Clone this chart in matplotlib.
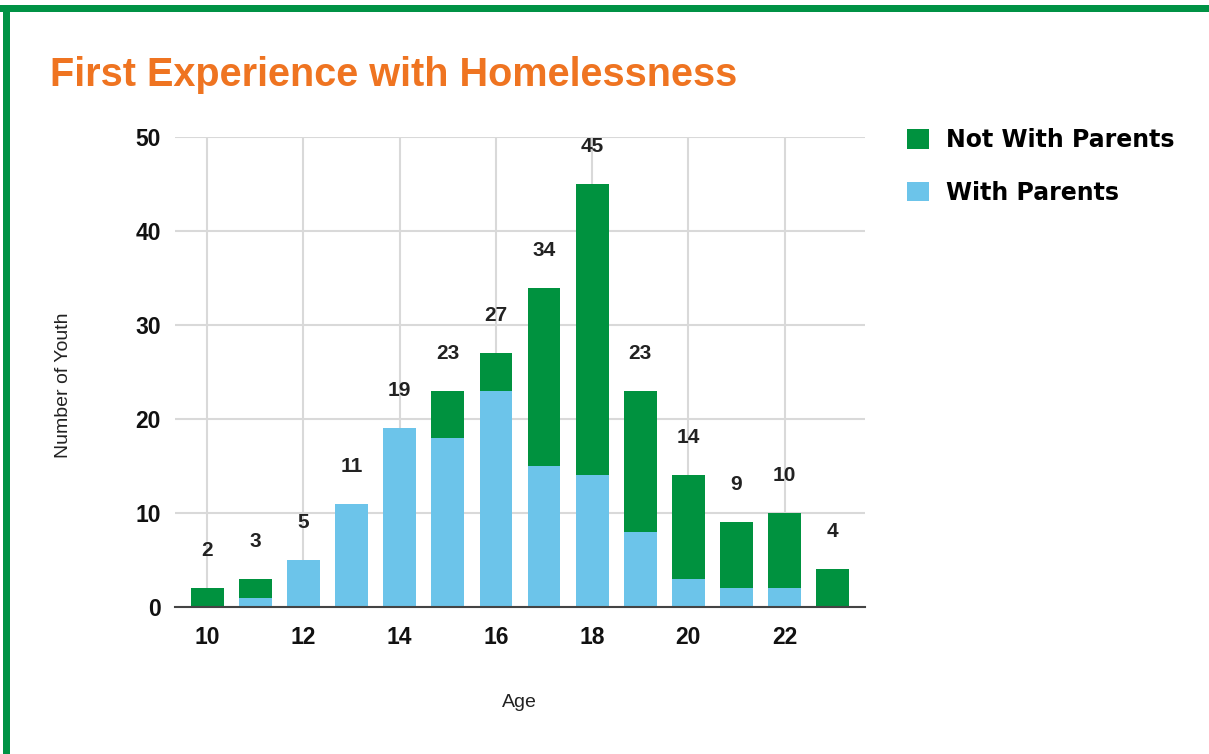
import numpy as np
import matplotlib
matplotlib.use("Agg")
import matplotlib.pyplot as plt
from matplotlib.patches import Rectangle, Patch

ages = [10, 11, 12, 13, 14, 15, 16, 17, 18, 19, 20, 21, 22, 23]
with_parents = [0, 1, 5, 11, 19, 18, 23, 15, 14, 8, 3, 2, 2, 0]
not_with_parents = [2, 2, 0, 0, 0, 5, 4, 19, 31, 15, 11, 7, 8, 4]
x_ticks = [10, 12, 14, 16, 18, 20, 22]
y_ticks = [0, 10, 20, 30, 40, 50]

green = "#00923f"
blue = "#6cc4ea"
orange = "#ef7421"

plt.rcParams['font.family'] = ['Liberation Sans', 'DejaVu Sans']

fig = plt.figure(figsize=(12.09, 7.54), dpi=100)
ax = fig.add_axes([0.1447, 0.195, 0.5708, 0.623])

ages_arr = np.array(ages)
wp = np.array(with_parents)
nwp = np.array(not_with_parents)
totals = wp + nwp

ax.bar(ages_arr, wp, width=0.68, color=blue, zorder=3)
ax.bar(ages_arr, nwp, width=0.68, bottom=wp, color=green, zorder=3)

for a, t in zip(ages_arr, totals):
    ax.annotate(str(t), (a, t), xytext=(0, 27), textcoords="offset points",
                ha="center", va="center", fontsize=15, fontweight="bold", color="#222222")

ax.set_xlim(9.33, 23.67)
ax.set_ylim(0, 50)
ax.set_xticks(x_ticks)
ax.set_yticks(y_ticks)
ax.tick_params(axis="both", length=0, labelsize=16.5)
ax.tick_params(axis="y", pad=10)
ax.tick_params(axis="x", pad=14)
for lab in ax.get_xticklabels() + ax.get_yticklabels():
    lab.set_fontweight("bold")
    lab.set_color("#111111")

ax.grid(True, color="#d9d9d9", linewidth=1.5, zorder=0)
for s in ["top", "right", "left"]:
    ax.spines[s].set_visible(False)
ax.spines["bottom"].set_color("#444444")
ax.spines["bottom"].set_linewidth(1.5)
ax.spines["bottom"].set_zorder(4)

fig.text(0.0524, 0.489, "Number of Youth", rotation=90, ha="center", va="center",
         fontsize=14, color="#222222")
fig.text(0.430, 0.068, "Age", ha="center", va="center", fontsize=14, color="#222222")

fig.text(0.041, 0.9, "First Experience with Homelessness", ha="left", va="center",
         fontsize=28.5, fontweight="bold", color=orange)

handles = [Patch(facecolor=green, edgecolor="none"), Patch(facecolor=blue, edgecolor="none")]
leg = fig.legend(handles, ["Not With Parents", "With Parents"], loc="upper left",
                 bbox_to_anchor=(0.733, 0.858), frameon=False, handlelength=0.9,
                 handleheight=0.9, handletextpad=0.75, labelspacing=1.2,
                 prop={"family": "DejaVu Sans", "weight": "bold", "size": 17})

# green frame on top and left edges
fig.patches.append(Rectangle((0, 1 - 12 / 754), 1, 7 / 754, transform=fig.transFigure,
                             facecolor="#009245", edgecolor="none"))
fig.patches.append(Rectangle((3 / 1209, 0), 7 / 1209, 1 - 5 / 754, transform=fig.transFigure,
                             facecolor="#009245", edgecolor="none"))

fig.savefig("out.png", dpi=100)
